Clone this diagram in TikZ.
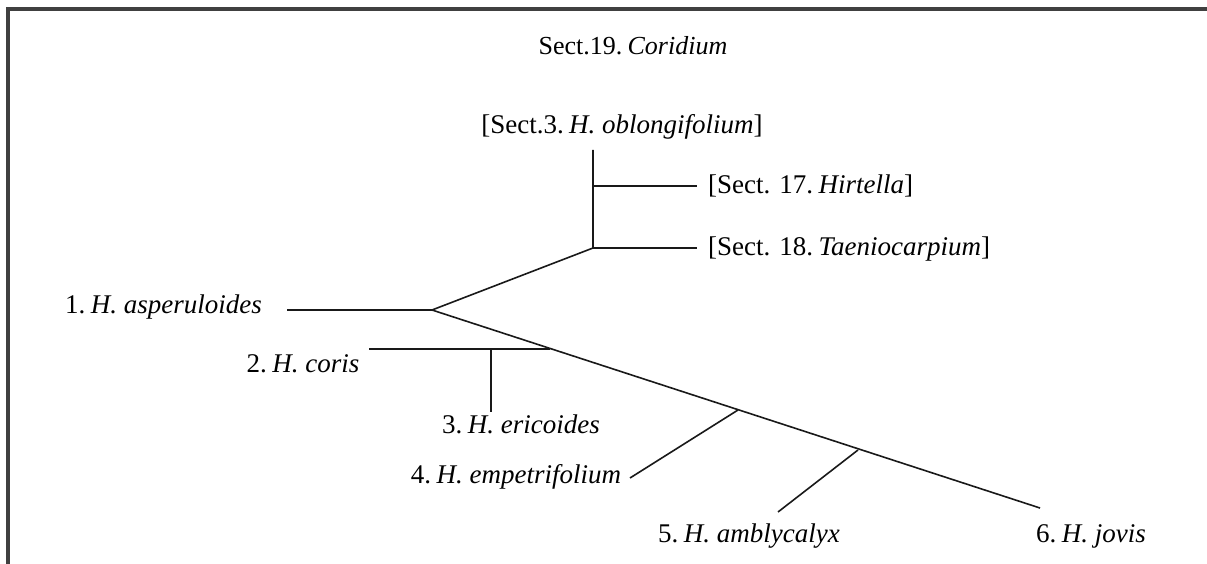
\documentclass[tikz,border=0pt]{standalone}
\usepackage{fontspec}
\setmainfont{Liberation Serif}
\begin{document}
\begin{tikzpicture}[x=1pt,y=-1pt,
  branch/.style={line width=1.6pt, black!90},
  frame/.style={line width=3.5pt, black!75},
  lbl/.style={inner sep=0pt, font=\fontsize{27}{30}\selectfont},
  ttl/.style={inner sep=0pt, font=\fontsize{26}{30}\selectfont}]
\useasboundingbox (0,0) rectangle (1207,564);
\draw[frame] (8,564) -- (8,9) -- (1207,9);
\node[ttl] (title) at (633,46) {Sect.19.\hspace{0.2em}\textit{Coridium}};
% coordinates
\coordinate (r) at (432,310);
\coordinate (a) at (593,248);
\coordinate (t) at (593,150);
\coordinate (h) at (593,186);
\coordinate (n1) at (550,349);
\coordinate (n1v) at (491,349);
\coordinate (n2) at (738,410);
\coordinate (n3) at (858,450);
\coordinate (e6) at (1040,508);
\coordinate (e17) at (697,186);
\coordinate (e18) at (697,248);
\coordinate (e1) at (287,310);
\coordinate (e2) at (369,349);
\coordinate (e3) at (491,412);
\coordinate (e4) at (630,478);
\coordinate (e5) at (778,512);
% labels
\node[lbl] (s3) at (622,127) {[Sect.3.\hspace{0.2em}\textit{H. oblongifolium}]};
\node[lbl,anchor=west] (s17) at (708,186) {[Sect. 17.\hspace{0.2em}\textit{Hirtella}]};
\node[lbl,anchor=west] (s18) at (708,249) {[Sect. 18.\hspace{0.2em}\textit{Taeniocarpium}]};
\node[lbl,anchor=east] (l1) at (262,307) {1.\hspace{0.2em}\textit{H. asperuloides}};
\node[lbl] (l2) at (303,364) {2.\hspace{0.2em}\textit{H. coris}};
\node[lbl] (l3) at (521,424) {3.\hspace{0.2em}\textit{H. ericoides}};
\node[lbl] (l4) at (516,477) {4.\hspace{0.2em}\textit{H. empetrifolium}};
\node[lbl] (l5) at (749,536) {5.\hspace{0.2em}\textit{H. amblycalyx}};
\node[lbl] (l6) at (1091,536) {6.\hspace{0.2em}\textit{H. jovis}};
% tree
\draw[branch] (t) -- (a) -- (r) -- (e6);
\draw[branch] (h) -- (e17);
\draw[branch] (a) -- (e18);
\draw[branch] (e1) -- (r);
\draw[branch] (e2) -- (n1);
\draw[branch] (n1v) -- (e3);
\draw[branch] (n2) -- (e4);
\draw[branch] (n3) -- (e5);
\end{tikzpicture}
\end{document}
